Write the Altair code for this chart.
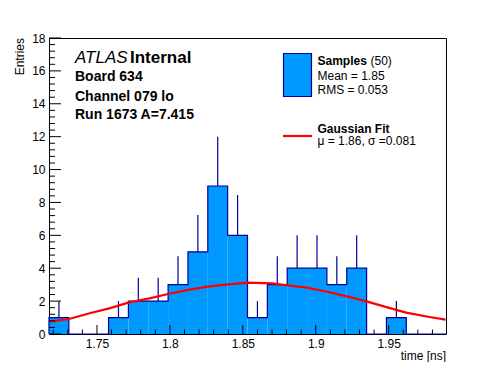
import altair as alt
import pandas as pd
import numpy as np

# ---- data ----
X_MIN = 1.7171
X_MAX = 1.9893
N_BINS = 20
counts = [1, 0, 0, 1, 2, 2, 3, 5, 9, 6, 1, 3, 4, 4, 3, 4, 0, 1, 0, 0]

fit_x = [1.7178, 1.7308, 1.745, 1.7584, 1.7715, 1.786, 1.7988, 1.8125, 1.826, 1.840,
         1.854, 1.870, 1.8808, 1.894, 1.908, 1.922, 1.936, 1.949, 1.962, 1.977, 1.989]
fit_y = [0.75, 0.91, 1.26, 1.56, 1.91, 2.17, 2.43, 2.68, 2.88, 3.02,
         3.12, 3.08, 2.96, 2.82, 2.57, 2.27, 1.95, 1.62, 1.30, 1.05, 0.87]

x_major = [1.75, 1.8, 1.85, 1.9, 1.95]
x_minor = [1.72, 1.73, 1.74, 1.76, 1.77, 1.78, 1.79, 1.81, 1.82, 1.83, 1.84,
           1.86, 1.87, 1.88, 1.89, 1.91, 1.92, 1.93, 1.94, 1.96, 1.97, 1.98]
y_major = [0, 2, 4, 6, 8, 10, 12, 14, 16, 18]
y_minor = [round(v * 0.4, 1) for v in range(1, 45) if (v % 5) != 0]

W, H = 397, 296
FILL = "#0099ff"
NAVY = "#000099"
FONT = "Liberation Sans"

bw = (X_MAX - X_MIN) / N_BINS
hist = pd.DataFrame({
    "lo": [X_MIN + i * bw for i in range(N_BINS)],
    "hi": [X_MIN + (i + 1) * bw for i in range(N_BINS)],
    "n": counts,
})
hist["c"] = (hist["lo"] + hist["hi"]) / 2
hist["e"] = hist["n"] + np.sqrt(hist["n"])
nz = hist[hist["n"] > 0]

step = pd.DataFrame({
    "x": [X_MIN] + list(hist["lo"]) + [X_MAX],
    "y": [0] + counts + [counts[-1]],
    "o": list(range(N_BINS + 2)),
})

xs = alt.Scale(domain=[X_MIN, X_MAX], nice=False, zero=False)
ys = alt.Scale(domain=[0, 18], nice=False, zero=False)

common_axis = dict(domain=False, ticks=False, grid=False, labelFont=FONT, labelFontSize=12,
                   labelColor="black", labelOverlap=False, title=None)
xaxis = alt.Axis(values=x_major, format="~g", labelPadding=4, **common_axis)
yaxis = alt.Axis(values=y_major, format="d", labelPadding=4, **common_axis)

def X(f):
    return alt.X(f, scale=xs, axis=xaxis)

def Y(f):
    return alt.Y(f, scale=ys, axis=yaxis)

bars = alt.Chart(nz).mark_rect(fill=FILL, strokeWidth=0).encode(
    x=X("lo:Q"), x2="hi:Q", y=Y("n:Q"), y2=alt.datum(0),
)

outline = alt.Chart(step).mark_line(color=NAVY, strokeWidth=1.2, interpolate="step-after").encode(
    x=X("x:Q"), y=Y("y:Q"), order="o:Q"
)

errs = alt.Chart(nz).mark_rule(color=NAVY, strokeWidth=1.2).encode(
    x=X("c:Q"), y=Y("n:Q"), y2="e:Q"
)

fit = alt.Chart(pd.DataFrame({"x": fit_x, "y": fit_y})).mark_line(
    color="#ff0000", strokeWidth=2.2, clip=True
).encode(x=X("x:Q"), y=Y("y:Q"))

def xticks(vals, length):
    return alt.Chart(pd.DataFrame({"v": vals})).mark_rule(color="black", strokeWidth=1).encode(
        x=X("v:Q"), y=alt.value(H), y2=alt.value(H - length)
    )

def yticks(vals, length):
    return alt.Chart(pd.DataFrame({"v": vals})).mark_rule(color="black", strokeWidth=1).encode(
        y=Y("v:Q"), x=alt.value(0), x2=alt.value(length)
    )

def txt(s, x, y, size=12, weight="normal", style="normal", align="left", angle=0, baseline="alphabetic"):
    return alt.Chart(pd.DataFrame({"t": [s]})).mark_text(
        font=FONT, fontSize=size, fontWeight=weight, fontStyle=style, align=align,
        baseline=baseline, angle=angle, color="black"
    ).encode(text="t:N", x=alt.value(x), y=alt.value(y))

legend_box = alt.Chart(pd.DataFrame({"t": ["Samples"]})).mark_rect(
    fill=FILL, stroke=NAVY, strokeWidth=1.2
).encode(x=alt.value(234.5), x2=alt.value(262.5), y=alt.value(15.5), y2=alt.value(58.5))

legend_line = alt.Chart(pd.DataFrame({"t": ["Gaussian Fit"]})).mark_rule(
    color="#ff0000", strokeWidth=2.2
).encode(x=alt.value(234), x2=alt.value(263), y=alt.value(98))

texts = [
    txt("ATLAS", 26, 25, size=17, style="italic"),
    txt("Internal", 81, 25, size=17, weight="bold"),
    txt("Board 634", 26, 43, size=14, weight="bold"),
    txt("Channel 079 lo", 26, 63, size=14, weight="bold"),
    txt("Run 1673 A=7.415", 26, 81, size=14, weight="bold"),
    txt("Samples", 268.5, 27, size=12, weight="bold"),
    txt("(50)", 321.5, 27, size=12),
    txt("Mean = 1.85", 268.5, 42, size=12),
    txt("RMS = 0.053", 268.5, 56, size=12),
    txt("Gaussian Fit", 268.5, 94.5, size=12, weight="bold"),
    txt("\u03bc = 1.86, \u03c3 =0.081", 268.5, 107, size=12),
    txt("time [ns]", W, H + 26, size=12, align="right"),
    txt("Entries", -25, 0, size=12, align="right", angle=270, baseline="alphabetic"),
]

chart = alt.layer(
    bars, errs, outline, fit,
    xticks(x_major, 9), xticks(x_minor, 4.5),
    yticks(y_major, 12), yticks(y_minor, 6),
    legend_box, legend_line, *texts
).properties(
    width=W, height=H,
    background="white",
    autosize=alt.AutoSizeParams(type="none"),
    padding={"left": 41, "top": 30, "right": 40, "bottom": 28},
).configure_view(
    stroke="black", strokeWidth=1
)

chart.save("out.html", embed_options={"renderer": "svg", "actions": False})
